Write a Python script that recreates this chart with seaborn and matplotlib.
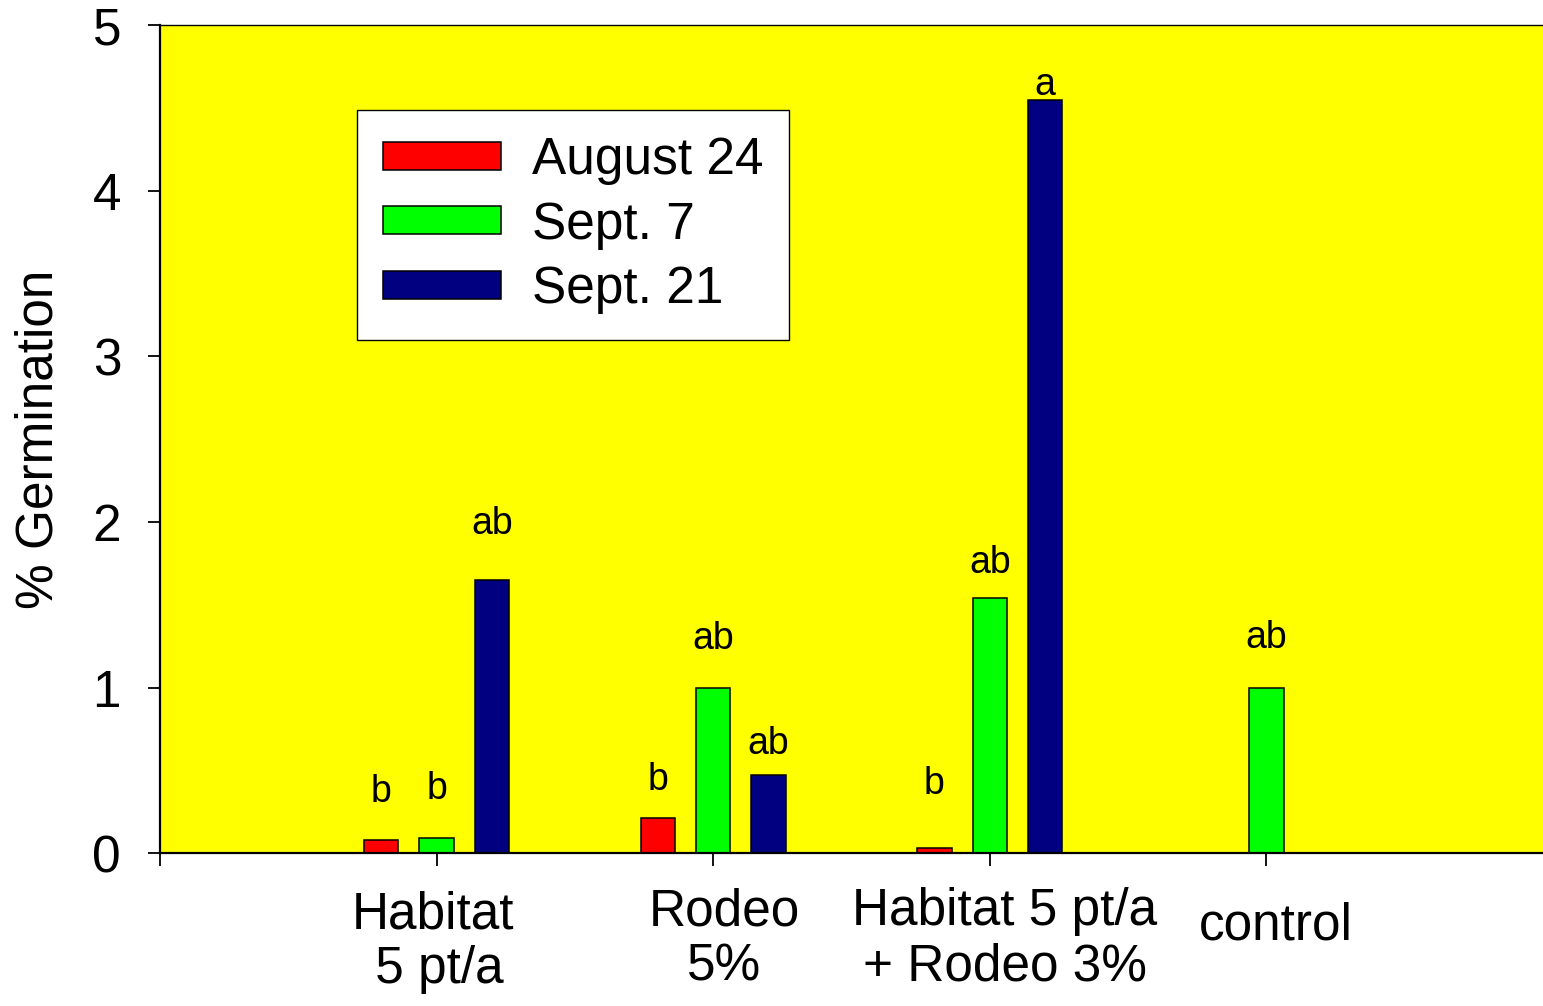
import seaborn as sns
import matplotlib.pyplot as plt
import matplotlib.transforms as mtransforms
import pandas as pd

treatments = ['Habitat\n 5 pt/a', 'Rodeo\n5%', 'Habitat 5 pt/a\n+ Rodeo 3%', 'control']
dates = ['August 24', 'Sept. 7', 'Sept. 21']
aug24 = [0.08, 0.21, 0.03, 0.0]
sep7 = [0.09, 1.00, 1.54, 1.00]
sep21 = [1.65, 0.47, 4.55, 0.0]

# mean separation letters and the height they are written at
aug24_letters = ['b', 'b', 'b', '']
sep7_letters = ['b', 'ab', 'ab', 'ab']
sep21_letters = ['ab', 'ab', 'a', '']
aug24_letter_y = [0.37, 0.44, 0.42, 0.0]
sep7_letter_y = [0.39, 1.29, 1.75, 1.30]
sep21_letter_y = [1.99, 0.66, 4.64, 0.0]

COLORS = ['#ff0000', '#00ff00', '#000080']
YELLOW = '#ffff00'

sns.set_theme(style='white')
plt.rcParams['font.family'] = ['Liberation Sans', 'DejaVu Sans']
plt.rcParams['text.color'] = 'black'

rows = []
for date, vals in zip(dates, [aug24, sep7, sep21]):
    for t, v in zip(treatments, vals):
        rows.append({'Treatment': t, 'Date': date, 'Germination': v})
df = pd.DataFrame(rows)

fig = plt.figure(figsize=(15.43, 10.06), dpi=100, facecolor='white')
ax = fig.add_axes([0.1037, 0.152, 0.8963, 0.823])
ax.set_facecolor(YELLOW)

sns.barplot(data=df, x='Treatment', y='Germination', hue='Date',
            order=treatments, hue_order=dates, palette=COLORS,
            width=0.6, gap=0.38, edgecolor='black', linewidth=1.1,
            saturation=1, errorbar=None, ax=ax)

letters = [aug24_letters, sep7_letters, sep21_letters]
letter_y = [aug24_letter_y, sep7_letter_y, sep21_letter_y]
for cont, labs, ys in zip(ax.containers, letters, letter_y):
    for bar, lab, y in zip(cont, labs, ys):
        if lab:
            ax.text(bar.get_x() + bar.get_width() / 2, y, lab,
                    ha='center', va='center', fontsize=27, color='black')

ax.set_xlim(-1, 4)
ax.set_ylim(0, 5)
ax.set_yticks(range(6))
ax.set_xticks([-1, 0, 1, 2, 3])
ax.set_xticklabels([''] + treatments, linespacing=1.17)
ax.tick_params(axis='both', direction='out', length=9, width=1.3,
               color='black', labelsize=37, labelcolor='black',
               bottom=True, left=True)
ax.tick_params(axis='x', pad=14)
ax.tick_params(axis='y', pad=19)

# small nudges of the category labels, as in the original
shifts = [(0, 0), (-4, 5), (11, 2), (15, 2), (9, 16)]
for lab, (dx, dy) in zip(ax.get_xticklabels(), shifts):
    lab.set_transform(lab.get_transform() +
                      mtransforms.ScaledTranslation(dx / 100, -dy / 100, fig.dpi_scale_trans))

ax.set_xlabel('')
ax.set_ylabel('% Germination', fontsize=37, color='black')
ax.yaxis.set_label_coords(-0.0696, 0.5)

for side in ['left', 'bottom']:
    ax.spines[side].set_color('black')
    ax.spines[side].set_linewidth(1.6)
ax.spines['top'].set_color('black')
ax.spines['top'].set_linewidth(1.0)
ax.spines['right'].set_visible(False)

handles, labels = ax.get_legend_handles_labels()
leg = ax.legend(handles, labels, loc='upper left', bbox_to_anchor=(0.1424, 0.897),
                borderaxespad=0, fontsize=37, frameon=True, fancybox=False,
                edgecolor='black', framealpha=1, handlelength=2.3,
                handleheight=0.47, handletextpad=0.6, labelspacing=0.3,
                borderpad=0.5, labelcolor='black')
leg.get_frame().set_linewidth(1.0)

fig.savefig('out.png', dpi=100, facecolor='white')
